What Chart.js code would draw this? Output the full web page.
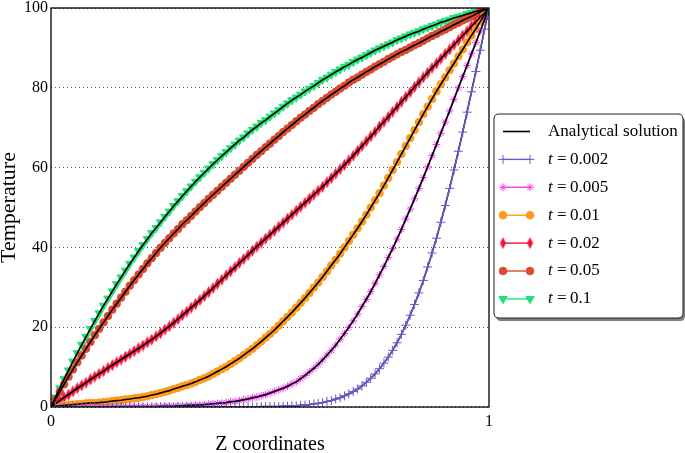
<!DOCTYPE html>
<html>
<head>
<meta charset="utf-8">
<script src="https://cdn.jsdelivr.net/npm/chart.js@4.4.1/dist/chart.umd.min.js"></script>
<style>
  html, body { margin: 0; padding: 0; background: #fff; }
  #wrap { width: 685px; height: 453px; }
</style>
</head>
<body>
<div id="wrap"><canvas id="chart" width="685" height="453"></canvas></div>
<script>
// z positions (shared by every curve)
const zCoords = [
  0, 0.01, 0.02, 0.03, 0.04, 0.05, 0.06, 0.07, 0.08, 0.09,
  0.1, 0.11, 0.12, 0.13, 0.14, 0.15, 0.16, 0.17, 0.18, 0.19,
  0.2, 0.21, 0.22, 0.23, 0.24, 0.25, 0.26, 0.27, 0.28, 0.29,
  0.3, 0.31, 0.32, 0.33, 0.34, 0.35, 0.36, 0.37, 0.38, 0.39,
  0.4, 0.41, 0.42, 0.43, 0.44, 0.45, 0.46, 0.47, 0.48, 0.49,
  0.5, 0.51, 0.52, 0.53, 0.54, 0.55, 0.56, 0.57, 0.58, 0.59,
  0.6, 0.61, 0.62, 0.63, 0.64, 0.65, 0.66, 0.67, 0.68, 0.69,
  0.7, 0.71, 0.72, 0.73, 0.74, 0.75, 0.76, 0.77, 0.78, 0.79,
  0.8, 0.81, 0.82, 0.83, 0.84, 0.85, 0.86, 0.87, 0.88, 0.89,
  0.9, 0.91, 0.92, 0.93, 0.94, 0.95, 0.96, 0.97, 0.98, 0.99,
  1
];

const timeLabels = ["0.002", "0.005", "0.01", "0.02", "0.05", "0.1"];

const tempT0002 = [
  0, 0, 0, 0, 0, 0, 0, 0, 0, 0,
  0, 0, 0, 0, 0, 0, 0, 0, 0, 0,
  0, 0, 0, 0, 0, 0, 0, 0, 0, 0,
  0, 0, 0, 0, 0, 0, 0, 0, 0, 0,
  0, 0, 0, 0, 0, 0, 0, 0, 0.1, 0.1,
  0.1, 0.1, 0.1, 0.2, 0.2, 0.3, 0.3, 0.4, 0.5, 0.6,
  0.8, 0.9, 1.1, 1.4, 1.6, 2.0, 2.3, 2.8, 3.3, 3.9,
  4.5, 5.3, 6.2, 7.2, 8.3, 9.6, 11.0, 12.5, 14.2, 16.1,
  18.2, 20.5, 23.0, 25.7, 28.6, 31.7, 35.1, 38.6, 42.3, 46.3,
  50.5, 54.8, 59.4, 64.1, 68.9, 73.9, 79.0, 84.1, 89.4, 94.7,
  100
];

const tempT0005 = [
  0, 0, 0, 0, 0, 0, 0, 0, 0, 0,
  0, 0, 0, 0, 0.1, 0.1, 0.1, 0.1, 0.1, 0.1,
  0.1, 0.1, 0.1, 0.1, 0.1, 0.2, 0.2, 0.2, 0.2, 0.3,
  0.3, 0.4, 0.4, 0.5, 0.5, 0.6, 0.7, 0.8, 0.9, 1.0,
  1.1, 1.3, 1.4, 1.6, 1.8, 2.0, 2.3, 2.5, 2.8, 3.1,
  3.5, 3.9, 4.3, 4.7, 5.2, 5.8, 6.3, 7.1, 7.9, 8.8,
  9.7, 10.7, 11.8, 13.0, 14.2, 15.5, 17.0, 18.4, 20.0, 21.6,
  23.3, 25.2, 27.0, 28.9, 31.0, 33.1, 35.2, 37.5, 39.7, 42.1,
  44.5, 47.1, 49.6, 52.2, 54.8, 57.5, 60.2, 63.0, 65.8, 68.6,
  71.4, 74.2, 77.1, 80.0, 82.8, 85.6, 88.5, 91.3, 94.2, 97.1,
  100
];

const tempT001 = [
  0, 0.2, 0.3, 0.4, 0.5, 0.6, 0.7, 0.8, 0.9, 1.0,
  1.0, 1.1, 1.2, 1.3, 1.5, 1.6, 1.7, 1.9, 2.0, 2.2,
  2.3, 2.5, 2.7, 3.0, 3.2, 3.5, 3.8, 4.1, 4.5, 4.8,
  5.2, 5.5, 5.9, 6.3, 6.8, 7.2, 7.7, 8.3, 8.9, 9.5,
  10.1, 10.8, 11.5, 12.2, 13.0, 13.8, 14.6, 15.5, 16.4, 17.4,
  18.3, 19.3, 20.4, 21.5, 22.6, 23.7, 24.9, 26.1, 27.3, 28.6,
  29.9, 31.2, 32.6, 34.0, 35.5, 36.9, 38.4, 40.0, 41.6, 43.2,
  44.8, 46.5, 48.2, 50.0, 51.8, 53.6, 55.5, 57.4, 59.4, 61.4,
  63.4, 65.4, 67.4, 69.4, 71.4, 73.4, 75.3, 77.2, 79.1, 80.9,
  82.6, 84.4, 86.1, 87.9, 89.6, 91.4, 93.1, 94.8, 96.6, 98.3,
  100
];

const tempT002 = [
  0, 0.8, 1.6, 2.4, 3.1, 3.9, 4.7, 5.4, 6.1, 6.9,
  7.6, 8.3, 9.0, 9.8, 10.5, 11.2, 11.9, 12.6, 13.3, 14.0,
  14.7, 15.4, 16.2, 16.9, 17.7, 18.5, 19.4, 20.2, 21.1, 22.0,
  23.0, 23.9, 24.9, 25.8, 26.8, 27.8, 28.8, 29.8, 30.9, 31.9,
  33.0, 34.0, 35.0, 36.1, 37.1, 38.1, 39.2, 40.2, 41.2, 42.2,
  43.2, 44.2, 45.2, 46.2, 47.2, 48.2, 49.2, 50.2, 51.2, 52.2,
  53.2, 54.2, 55.2, 56.3, 57.4, 58.5, 59.6, 60.7, 61.8, 63.0,
  64.2, 65.4, 66.6, 67.8, 69.0, 70.3, 71.5, 72.7, 74.0, 75.2,
  76.5, 77.7, 78.9, 80.2, 81.4, 82.6, 83.8, 85.0, 86.1, 87.3,
  88.5, 89.6, 90.8, 91.9, 93.1, 94.2, 95.4, 96.5, 97.7, 98.8,
  100
];

const tempT005 = [
  0, 1.9, 3.8, 5.7, 7.6, 9.4, 11.2, 12.9, 14.6, 16.3,
  18.0, 19.6, 21.2, 22.8, 24.4, 25.9, 27.4, 28.9, 30.4, 31.8,
  33.2, 34.6, 36.0, 37.3, 38.6, 39.9, 41.1, 42.3, 43.5, 44.6,
  45.8, 46.8, 47.9, 49.0, 50.1, 51.1, 52.2, 53.2, 54.2, 55.2,
  56.2, 57.2, 58.2, 59.2, 60.2, 61.2, 62.2, 63.2, 64.1, 65.1,
  66.0, 67.0, 67.9, 68.9, 69.8, 70.7, 71.6, 72.5, 73.3, 74.2,
  75.0, 75.9, 76.7, 77.5, 78.3, 79.0, 79.8, 80.5, 81.3, 82.0,
  82.6, 83.3, 84.0, 84.6, 85.3, 85.9, 86.5, 87.2, 87.8, 88.4,
  89.0, 89.5, 90.1, 90.7, 91.2, 91.8, 92.4, 93.0, 93.5, 94.1,
  94.6, 95.2, 95.8, 96.3, 96.9, 97.4, 97.9, 98.5, 99.0, 99.5,
  100
];

const tempT01 = [
  0, 2.4, 4.7, 7.0, 9.2, 11.4, 13.5, 15.6, 17.6, 19.6,
  21.6, 23.5, 25.4, 27.2, 29.0, 30.8, 32.5, 34.2, 35.9, 37.5,
  39.1, 40.6, 42.1, 43.6, 44.9, 46.3, 47.7, 49.0, 50.4, 51.6,
  52.9, 54.1, 55.3, 56.5, 57.6, 58.7, 59.8, 60.9, 61.9, 62.9,
  63.9, 64.9, 65.8, 66.8, 67.6, 68.6, 69.5, 70.3, 71.2, 71.9,
  72.8, 73.6, 74.4, 75.3, 76.1, 76.9, 77.6, 78.3, 79.1, 79.8,
  80.5, 81.2, 82.0, 82.6, 83.3, 84.0, 84.6, 85.3, 85.8, 86.5,
  87.1, 87.6, 88.2, 88.8, 89.4, 89.9, 90.4, 90.9, 91.4, 92.0,
  92.4, 92.9, 93.4, 93.8, 94.2, 94.7, 95.1, 95.5, 95.9, 96.4,
  96.7, 97.1, 97.5, 97.8, 98.1, 98.5, 98.8, 99.1, 99.4, 99.7,
  100
];

const yTicks = [0, 20, 40, 60, 80, 100];
const xTicks = [0, 1];

const SERIF = "'Liberation Serif', 'Times New Roman', serif";

// thin diamond marker (matplotlib 'd')
const makeThinDiamond = (color) => {
  const c = document.createElement("canvas");
  c.width = 7;
  c.height = 12;
  const g = c.getContext("2d");
  g.fillStyle = color;
  g.beginPath();
  g.moveTo(3.5, 0);
  g.lineTo(6.5, 6);
  g.lineTo(3.5, 12);
  g.lineTo(0.5, 6);
  g.closePath();
  g.fill();
  return c;
};

const series = [
  { data: tempT0002, color: "#6a5acd", pointStyle: "cross", radius: 4.5, rotation: 0, top: true },
  { data: tempT0005, color: "#f03cf0", pointStyle: "star", radius: 3.8, rotation: 0 },
  { data: tempT001, color: "#ff9a1a", pointStyle: "circle", radius: 3.8, rotation: 0 },
  { data: tempT002, color: "#f5103f", pointStyle: makeThinDiamond("#f5103f"), radius: 4, rotation: 0 },
  { data: tempT005, color: "#db4a2f", pointStyle: "circle", radius: 3.8, rotation: 0 },
  { data: tempT01, color: "#1fe27a", pointStyle: "triangle", radius: 4.8, rotation: 180 },
];

const numericSets = series.map((s, i) => ({
  label: "t = " + timeLabels[i],
  data: s.data,
  borderColor: s.color,
  backgroundColor: s.color,
  borderWidth: 1.4,
  pointStyle: s.pointStyle,
  pointRadius: s.radius,
  pointRotation: s.rotation,
  pointBorderWidth: 1,
  pointBorderColor: s.color,
  pointBackgroundColor: s.color,
  tension: 0,
  order: s.top ? 0 : 2,
}));

const analyticSets = series.map((s) => ({
  label: "Analytical solution",
  data: s.data,
  borderColor: "#000",
  borderWidth: 1.6,
  pointRadius: 0,
  tension: 0,
  order: 1,
}));

const roundRect = (ctx, x, y, w, h, r) => {
  ctx.beginPath();
  ctx.moveTo(x + r, y);
  ctx.lineTo(x + w - r, y);
  ctx.quadraticCurveTo(x + w, y, x + w, y + r);
  ctx.lineTo(x + w, y + h - r);
  ctx.quadraticCurveTo(x + w, y + h, x + w - r, y + h);
  ctx.lineTo(x + r, y + h);
  ctx.quadraticCurveTo(x, y + h, x, y + h - r);
  ctx.lineTo(x, y + r);
  ctx.quadraticCurveTo(x, y, x + r, y);
  ctx.closePath();
};

const drawMarker = (ctx, s, x, y) => {
  ctx.fillStyle = s.color;
  ctx.strokeStyle = s.color;
  ctx.lineWidth = 1;
  if (Chart.helpers && Chart.helpers.drawPoint) {
    Chart.helpers.drawPoint(ctx, { pointStyle: s.pointStyle, radius: s.radius, rotation: s.rotation, borderWidth: 1 }, x, y);
  } else {
    ctx.beginPath();
    ctx.arc(x, y, s.radius, 0, Math.PI * 2);
    ctx.fill();
  }
};

// axes frame (matplotlib box)
const frame = {
  id: "frame",
  afterDatasetsDraw(chart) {
    const { ctx, chartArea: a } = chart;
    ctx.save();
    ctx.strokeStyle = "#000";
    ctx.lineWidth = 1.3;
    ctx.strokeRect(a.left, a.top, a.right - a.left, a.bottom - a.top);
    ctx.restore();
  },
};

// legend box to the right of the axes
const legendBox = {
  id: "legendBox",
  afterDraw(chart) {
    const ctx = chart.ctx;
    const bx = 494, by = 114, bw = 189, bh = 204;
    ctx.save();
    ctx.fillStyle = "rgba(0,0,0,0.5)";
    roundRect(ctx, bx + 2, by + 3, bw, bh, 5);
    ctx.fill();
    ctx.fillStyle = "#fff";
    ctx.strokeStyle = "#222";
    ctx.lineWidth = 1;
    roundRect(ctx, bx, by, bw, bh, 5);
    ctx.fill();
    ctx.stroke();

    const x1 = 503, x2 = 530, tx = 548, rowStep = 27.9;
    let y = 131.5;
    ctx.textBaseline = "middle";
    ctx.textAlign = "left";

    ctx.strokeStyle = "#000";
    ctx.lineWidth = 1.6;
    ctx.beginPath();
    ctx.moveTo(x1, y);
    ctx.lineTo(x2, y);
    ctx.stroke();
    ctx.fillStyle = "#000";
    ctx.font = "17px " + SERIF;
    ctx.fillText("Analytical solution", tx, y);

    series.forEach((s, i) => {
      y += rowStep;
      ctx.strokeStyle = s.color;
      ctx.lineWidth = 1.4;
      ctx.beginPath();
      ctx.moveTo(x1, y);
      ctx.lineTo(x2, y);
      ctx.stroke();
      drawMarker(ctx, s, x1, y);
      drawMarker(ctx, s, x2, y);
      ctx.fillStyle = "#000";
      ctx.font = "italic 17px " + SERIF;
      ctx.fillText("t", tx, y);
      ctx.font = "17px " + SERIF;
      ctx.fillText("=", tx + 9, y);
      ctx.fillText(timeLabels[i], tx + 22, y);
    });
    ctx.restore();
  },
};

new Chart(document.getElementById("chart"), {
  type: "line",
  data: {
    labels: zCoords,
    datasets: [...numericSets, ...analyticSets],
  },
  options: {
    responsive: false,
    animation: false,
    devicePixelRatio: 1,
    layout: { padding: { top: 8, right: 196, left: 0, bottom: 0 } },
    plugins: {
      legend: { display: false },
      tooltip: { enabled: false },
    },
    scales: {
      x: {
        type: "linear",
        min: 0,
        max: 1,
        afterBuildTicks: (scale) => {
          scale.ticks = xTicks.map((v) => ({ value: v }));
        },
        ticks: {
          color: "#000",
          font: { family: SERIF, size: 16, lineHeight: 1 },
          padding: 7,
          maxRotation: 0,
          callback: (v) => String(v),
        },
        grid: { display: false, drawTicks: false },
        border: { display: false },
        title: {
          display: true,
          text: "Z coordinates",
          color: "#000",
          font: { family: SERIF, size: 20, lineHeight: 0.8 },
          padding: { top: 0, bottom: 0 },
        },
        afterFit: (scale) => {
          scale.height = 46;
          scale.paddingLeft = 0;
          scale.paddingRight = 0;
        },
      },
      y: {
        min: 0,
        max: 100,
        afterBuildTicks: (scale) => {
          scale.ticks = yTicks.map((v) => ({ value: v }));
        },
        ticks: {
          color: "#000",
          font: { family: SERIF, size: 16, lineHeight: 1 },
          padding: 3,
        },
        grid: { color: "#555", lineWidth: 1, drawTicks: false },
        border: { display: false, dash: [1, 3] },
        title: {
          display: true,
          text: "Temperature",
          color: "#000",
          font: { family: SERIF, size: 22, lineHeight: 0.8 },
          padding: { top: 0, bottom: 0 },
        },
        afterFit: (scale) => {
          scale.width = 51;
          scale.paddingTop = 0;
          scale.paddingBottom = 0;
        },
      },
    },
  },
  plugins: [frame, legendBox],
});
</script>
</body>
</html>
